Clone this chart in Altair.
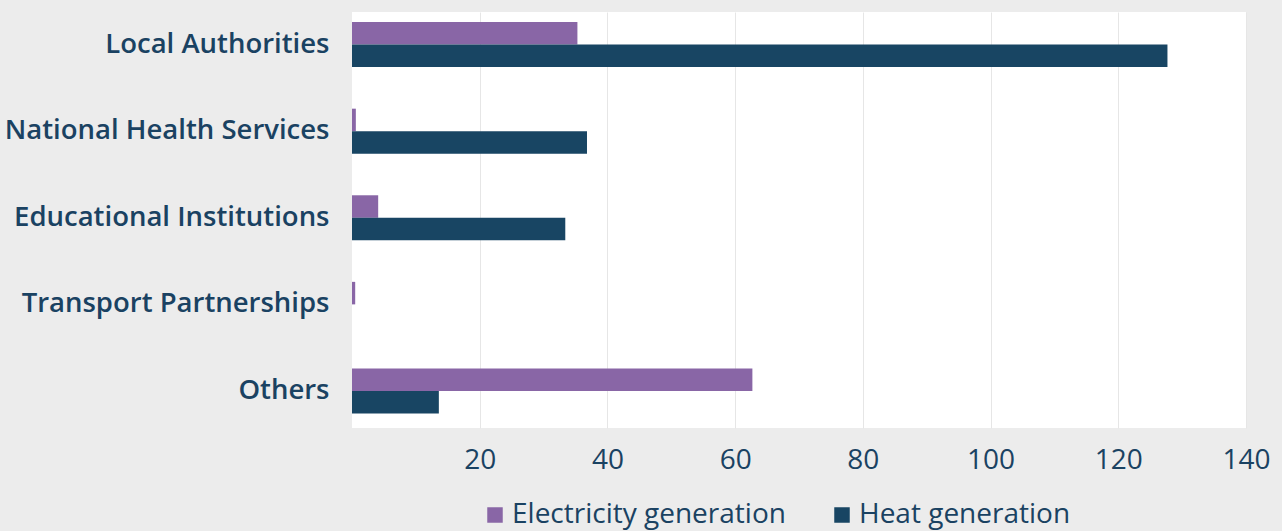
import altair as alt
import pandas as pd

categories = ["Local Authorities", "National Health Services", "Educational Institutions",
              "Transport Partnerships", "Others"]
series = ["Electricity generation", "Heat generation"]
electricity = [35.3, 0.6, 4.1, 0.5, 62.7]
heat = [127.7, 36.8, 33.4, 0.0, 13.6]
x_ticks = [20, 40, 60, 80, 100, 120, 140]
colors = ["#8966a6", "#184563"]
text_color = "#1a4262"

rows = []
for c, e, h in zip(categories, electricity, heat):
    rows.append({"category": c, "series": series[0], "value": e})
    rows.append({"category": c, "series": series[1], "value": h})
df = pd.DataFrame(rows)

chart = alt.Chart(df).mark_bar().encode(
    x=alt.X("value:Q", scale=alt.Scale(domain=[0, 140], nice=False, zero=True),
            axis=alt.Axis(values=x_ticks, title=None, grid=True, gridColor="#e6e6e6",
                          domain=False, ticks=False, labelFontSize=28, labelFont="Open Sans",
                          labelColor=text_color, labelPadding=18, labelFlush=False)),
    y=alt.Y("category:N", sort=categories,
            scale=alt.Scale(paddingInner=0.48, paddingOuter=0.142, align=0.41),
            axis=alt.Axis(title=None, domain=False, ticks=False, grid=False,
                          labelFontSize=27.5, labelFont="Open Sans", labelFontWeight=600,
                          labelColor=text_color, labelPadding=23, labelLimit=400)),
    yOffset=alt.YOffset("series:N", sort=series, scale=alt.Scale(paddingInner=0, paddingOuter=0)),
    color=alt.Color("series:N", sort=series,
                    scale=alt.Scale(domain=series, range=colors),
                    legend=alt.Legend(title=None, orient="none", direction="horizontal",
                                      legendX=129, legendY=489, symbolType="square",
                                      symbolSize=240, symbolStrokeWidth=0, labelFontSize=28,
                                      labelFont="Open Sans", labelColor=text_color,
                                      labelOffset=3, columnPadding=42, padding=0,
                                      labelLimit=400)),
).properties(
    width=894, height=416,
    background="#ececec",
    padding={"left": 352, "top": 12, "right": 36, "bottom": 103},
    autosize=alt.AutoSizeParams(type="none"),
).configure_view(fill="white", stroke=None)

chart.save("out.html", embed_options={"renderer": "svg", "actions": False})
